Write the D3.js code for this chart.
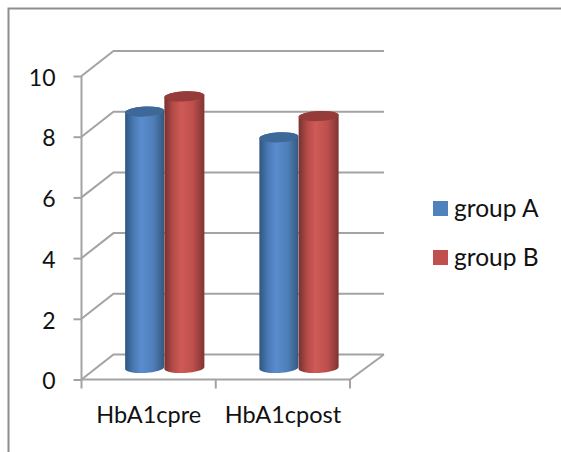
<!DOCTYPE html>
<html>
<head>
<meta charset="utf-8">
<script src="https://cdn.jsdelivr.net/npm/d3@7"></script>
<style>
html,body{margin:0;padding:0;background:#fff;}
svg{display:block;}
text{font-family:Lato,"Open Sans",sans-serif;fill:#111;}
</style>
</head>
<body>
<div id="chart"></div>
<script>
const categories = ["HbA1cpre", "HbA1cpost"];
const seriesNames = ["group A", "group B"];
const groupA = [8.45, 7.6];
const groupB = [8.95, 8.3];
const yTicks = [0, 2, 4, 6, 8, 10];
const seriesColors = ["#4f81bd", "#c0504d"];
const topColors = ["#3d6897", "#953b39"];
const shades = [
  ["#2f5581", "#4a7ab4", "#5a8cce", "#4f7fba", "#34597f"],
  ["#773130", "#b54c49", "#cf5a57", "#bd4f4c", "#7f3432"]
];

const W = 561, H = 452;
const svg = d3.select("#chart").append("svg").attr("width", W).attr("height", H);
const defs = svg.append("defs");

shades.forEach((stops, i) => {
  const g = defs.append("linearGradient").attr("id", "cyl" + i)
    .attr("x1", 0).attr("x2", 1).attr("y1", 0).attr("y2", 0);
  [0, 0.22, 0.42, 0.72, 1].forEach((o, j) =>
    g.append("stop").attr("offset", o).attr("stop-color", stops[j]));
});

// Outer frame: only the top and left edges fall inside the view
svg.append("path")
  .attr("d", `M8.5,${H}V8.5H${W}`)
  .attr("fill", "none").attr("stroke", "#8e8e8e").attr("stroke-width", 2);

const left = 81.5, right = 350, depthX = 32, depthY = 25;
const y = d3.scaleLinear().domain([0, 10]).range([379.5, 76]);
const x0 = d3.scaleBand().domain(categories).range([left, right]);
const x1 = d3.scaleBand().domain(seriesNames).range([43.5, 122]);

const gridColor = "#a3a3a3";

// Side wall and back wall gridlines
const grid = svg.append("g").attr("fill", "none").attr("stroke", gridColor).attr("stroke-width", 2);
yTicks.forEach(t => {
  grid.append("path").attr("d",
    `M${left},${y(t)}L${left + depthX},${y(t) - depthY}H${right + depthX + 2}`);
});
// Floor's right edge and front edge
grid.append("path").attr("d",
  `M${left},${y(0)}H${right}L${right + depthX + 2},${y(0) - depthY}`);

// Value axis
const yAxis = svg.append("g").attr("transform", `translate(${left},0)`)
  .call(d3.axisLeft(y).tickValues(yTicks).tickSize(8).tickPadding(18).tickFormat(d3.format("d")));
yAxis.select(".domain").attr("stroke", gridColor).attr("stroke-width", 2).attr("d", `M0,${y(10)}V${y(0)}`);
yAxis.selectAll("line").attr("stroke", gridColor).attr("stroke-width", 2);
yAxis.selectAll("text").attr("font-size", 23).attr("dy", "0.4em")
  .attr("font-family", "Lato,'Open Sans',sans-serif").attr("fill", "#111");

// Category axis
const xAxis = svg.append("g").attr("transform", `translate(0,${y(0)})`)
  .call(d3.axisBottom(x0).tickSize(0).tickPadding(27));
xAxis.select(".domain").remove();
xAxis.selectAll("text").attr("font-size", 23.5).attr("font-family", "Lato,'Open Sans',sans-serif").attr("fill", "#111");
const boundaries = [left, left + x0.bandwidth(), right];
svg.append("g").selectAll("line").data(boundaries).join("line")
  .attr("x1", d => d).attr("x2", d => d)
  .attr("y1", y(0)).attr("y2", y(0) + 9)
  .attr("stroke", gridColor).attr("stroke-width", 2);

// Cylinders: the base sits on the floor, set back from the front edge
const baseOffset = 11.5, ry = 5, tilt = -3;
const unit = y(0) - y(1);
function cylinder(g, cx, rx, value, si) {
  const bottom = y(0) - baseOffset;
  const top = bottom - value * unit;
  const lx = cx - rx, rxp = cx + rx;
  const dy = rx * Math.tan(tilt * Math.PI / 180);
  g.append("path")
    .attr("d", `M${lx},${top - dy}L${lx},${bottom - dy}A${rx},${ry} ${tilt} 0 0 ${rxp},${bottom + dy}L${rxp},${top + dy}A${rx},${ry} ${tilt} 0 0 ${lx},${top - dy}Z`)
    .attr("fill", `url(#cyl${si})`);
  g.append("ellipse")
    .attr("cx", cx).attr("cy", top).attr("rx", rx).attr("ry", ry)
    .attr("transform", `rotate(${tilt} ${cx} ${top})`)
    .attr("fill", topColors[si]);
}

const barsLayer = svg.append("g");
categories.forEach((c, i) => {
  [groupA[i], groupB[i]].forEach((v, si) => {
    const cx = x0(c) + x1(seriesNames[si]) + x1.bandwidth() / 2 + (si === 1 ? 0.5 : 0);
    cylinder(barsLayer, cx, si === 1 ? 20 : 19.5, v, si);
  });
});

// Legend
const legend = svg.append("g").selectAll("g").data(seriesNames).join("g")
  .attr("transform", (d, i) => `translate(433,${201 + i * 49})`);
legend.append("rect").attr("width", 15).attr("height", 15)
  .attr("fill", (d, i) => seriesColors[i]);
legend.append("text").attr("x", 21).attr("y", 16)
  .attr("font-size", 24.5).text(d => d);
</script>
</body>
</html>
